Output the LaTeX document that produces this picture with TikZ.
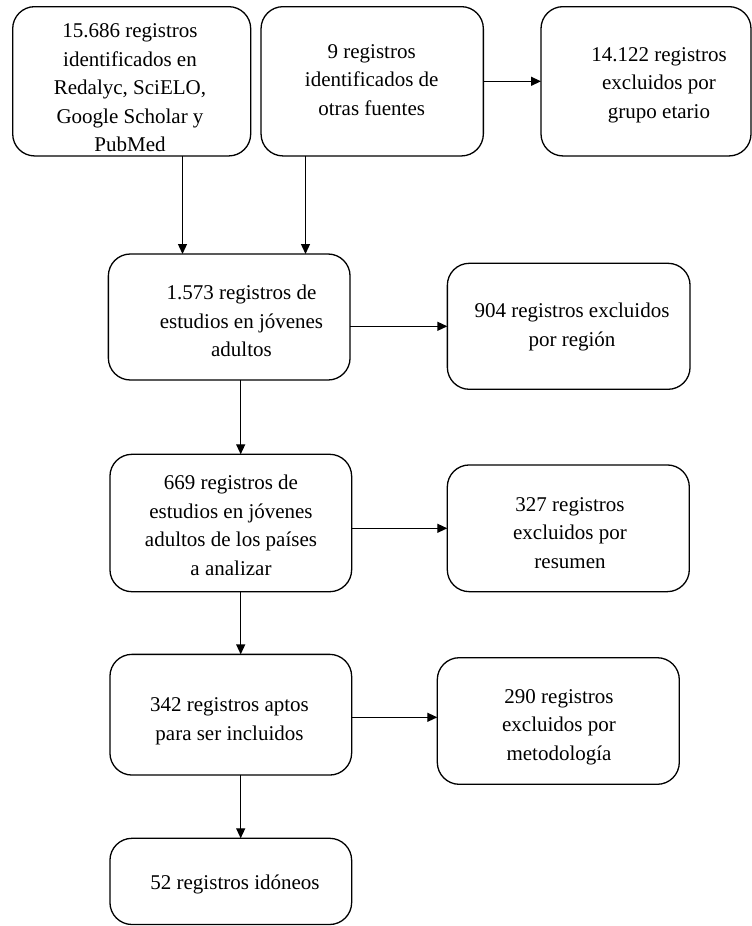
\documentclass[tikz,border=0pt]{standalone}
\usepackage{fontspec}
\setmainfont{Liberation Serif}
\usetikzlibrary{arrows.meta,calc}
\begin{document}
\begin{tikzpicture}[x=1pt,y=-1pt,
  box/.style={draw=black,line width=1.3pt,rounded corners=22pt,inner sep=0pt,outer sep=0pt},
  txt/.style={align=center,inner sep=0pt,anchor=base,font=\fontsize{21}{28.5}\selectfont},
  arr/.style={line width=1.3pt,-{Triangle[length=10pt,width=9pt]}}]
\useasboundingbox (0,0) rectangle (752,926);
% boxes
\node[box,minimum width=238pt,minimum height=149.3pt] (b1) at (131.7,81.3) {};
\node[box,minimum width=222.3pt,minimum height=149.3pt] (b2) at (372.2,81.3) {};
\node[box,minimum width=210pt,minimum height=149.3pt] (b3) at (646,81.3) {};
\node[box,minimum width=241.7pt,minimum height=126pt] (b4) at (229.2,317) {};
\node[box,minimum width=242.7pt,minimum height=126pt] (b5) at (568.7,326.3) {};
\node[box,minimum width=241.7pt,minimum height=137.4pt] (b6) at (230.8,523) {};
\node[box,minimum width=242pt,minimum height=126.7pt] (b7) at (568.3,528.3) {};
\node[box,minimum width=241.7pt,minimum height=120.7pt] (b8) at (230.8,714.7) {};
\node[box,minimum width=242pt,minimum height=126.6pt] (b10) at (558.3,721) {};
\node[box,minimum width=241.7pt,minimum height=86.2pt] (b9) at (230.8,881.4) {};
% texts (anchor base = baseline of last line)
\node[txt] (t1) at (130,151.7) {15.686 registros\\identificados en\\Redalyc, SciELO,\\Google Scholar y\\PubMed};
\node[txt] (t2) at (371.7,115) {9 registros\\identificados de\\otras fuentes};
\node[txt] (t3) at (659,118) {14.122 registros\\excluidos por\\grupo etario};
\node[txt] (t4) at (241.5,356.7) {1.573 registros de\\estudios en jóvenes\\adultos};
\node[txt] (t5) at (572,346) {904 registros excluidos\\por región};
\node[txt] (t6) at (231,575) {669 registros de\\estudios en jóvenes\\adultos de los países\\a analizar};
\node[txt] (t7) at (570,568.3) {327 registros\\excluidos por\\resumen};
\node[txt] (t8) at (229.5,740) {342 registros aptos\\para ser incluidos};
\node[txt] (t10) at (559,760) {290 registros\\excluidos por\\metodología};
\node[txt] (t9) at (235,889.3) {52 registros idóneos};
% arrows
\draw[arr] ([xshift=50.8pt]b1.south) -- ([xshift=50.8pt]b1.south |- b4.north);
\draw[arr] ([xshift=-66.7pt]b2.south) -- ([xshift=-66.7pt]b2.south |- b4.north);
\draw[arr] (b2.east) -- (b3.west);
\draw[arr] (b4.east |- b5.west) -- (b5.west);
\draw[arr] ([xshift=11.5pt]b4.south) -- ([xshift=11.5pt]b4.south |- b6.north);
\draw[arr] (b6.east |- b7.west) -- (b7.west);
\draw[arr] ([xshift=9.9pt]b6.south) -- ([xshift=9.9pt]b6.south |- b8.north);
\draw[arr] ([yshift=-2.6pt]b8.east) -- ([yshift=-2.6pt]b8.east -| b10.west);
\draw[arr] ([xshift=9.9pt]b8.south) -- ([xshift=9.9pt]b8.south |- b9.north);
\end{tikzpicture}
\end{document}
